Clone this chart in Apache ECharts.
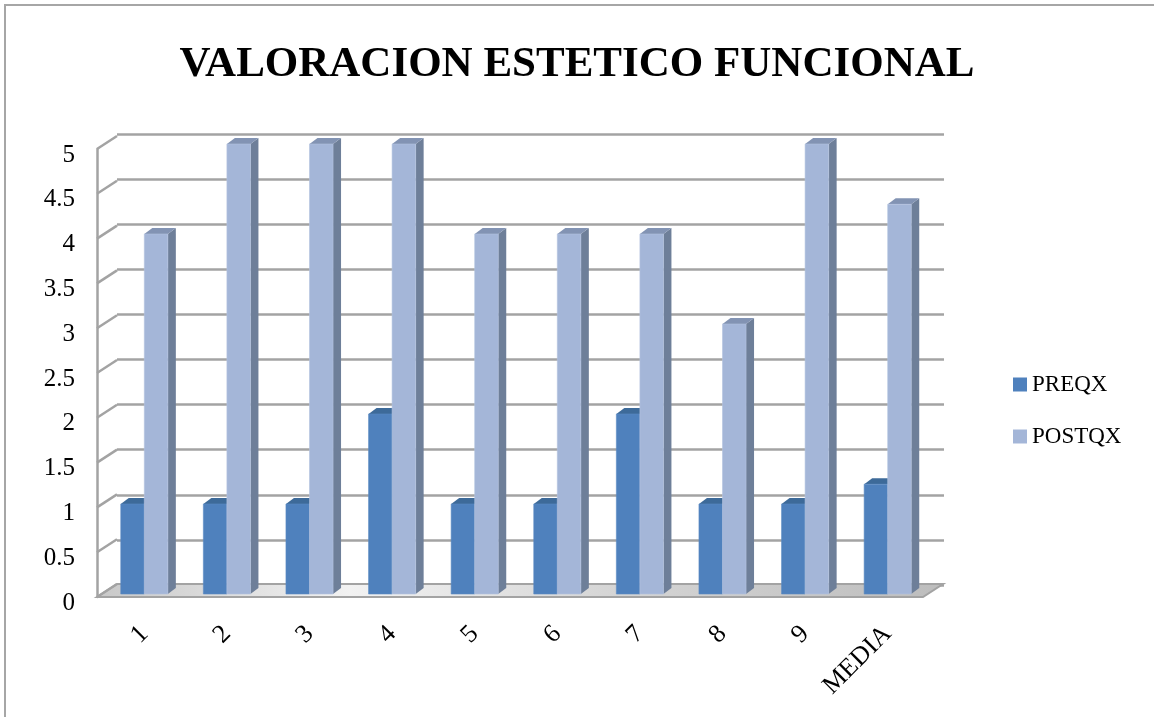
<!DOCTYPE html>
<html>
<head>
<meta charset="utf-8">
<script src="https://cdn.jsdelivr.net/npm/echarts@6/dist/echarts.min.js"></script>
<style>
html, body { margin: 0; padding: 0; background: #fff; }
#main { width: 1154px; height: 717px; }
</style>
</head>
<body>
<div id="main"></div>
<script>
var categories = ['1', '2', '3', '4', '5', '6', '7', '8', '9', 'MEDIA']
var preqx = [1, 1, 1, 2, 1, 1, 2, 1, 1, 1.22]
var postqx = [4, 5, 5, 5, 4, 4, 4, 3, 5, 4.33]
var yTicks = [0, 0.5, 1, 1.5, 2, 2.5, 3, 3.5, 4, 4.5, 5]

var FONT = '"Liberation Serif", "DejaVu Serif", serif'
var WALL = '#a3a3a3'
// profundidad de la pared (frontal -> fondo)
var WALL_DX = 20
var WALL_DY = -13
// profundidad de las barras
var BAR_DX = 8
var BAR_DY = -6

var myChart = echarts.init(document.getElementById('main'))

// barras 3d: cara frontal, superior y lateral
function barRender (slot, colors) {
  return function (params, api) {
    var base = api.coord([api.value(0), 0])
    var top = api.coord([api.value(0), api.value(1)])
    var band = api.size([1, 0])[0]
    var w = band * 0.285
    var xl = top[0] + (slot - 1) * w
    var yt = top[1]
    var yb = base[1]
    return {
      type: 'group',
      children: [
        {
          type: 'polygon',
          shape: { points: [[xl + w, yt], [xl + w + BAR_DX, yt + BAR_DY], [xl + w + BAR_DX, yb + BAR_DY], [xl + w, yb]] },
          style: { fill: colors.side }
        },
        {
          type: 'polygon',
          shape: { points: [[xl, yt], [xl + BAR_DX, yt + BAR_DY], [xl + w + BAR_DX, yt + BAR_DY], [xl + w, yt]] },
          style: { fill: colors.top }
        },
        {
          type: 'rect',
          shape: { x: xl, y: yt, width: w, height: yb - yt },
          style: { fill: colors.front, stroke: colors.edge, lineWidth: 0.6 }
        }
      ]
    }
  }
}

const option = {
  animation: false,
  backgroundColor: '#fff',
  title: {
    text: 'VALORACION ESTETICO FUNCIONAL',
    left: 'center',
    top: 38,
    textStyle: {
      fontFamily: FONT,
      fontWeight: 'bold',
      fontSize: 43,
      color: '#000'
    }
  },
  legend: {
    orient: 'vertical',
    left: 1008,
    top: 368,
    itemGap: 29,
    itemWidth: 14,
    itemHeight: 14,
    icon: 'rect',
    data: ['PREQX', 'POSTQX'],
    textStyle: {
      fontFamily: FONT,
      fontSize: 23,
      color: '#000'
    }
  },
  graphic: [
    {
      type: 'rect',
      shape: { x: 5, y: 5, width: 1170, height: 730 },
      style: { fill: null, stroke: '#a6a6a6', lineWidth: 2 },
      silent: true
    }
  ],
  grid: [
    // pared del fondo
    { left: 117, right: 210, top: 134, bottom: 132 },
    // eje frontal
    { left: 97, right: 231, top: 149, bottom: 120 },
    // barras
    { left: 103, right: 225, top: 144, bottom: 123 },
    // etiquetas del eje y (un poco mas abajo, como en excel)
    { left: 97, right: 231, top: 155, bottom: 114 }
  ],
  xAxis: [
    { gridIndex: 0, type: 'value', min: 0, max: 1, show: false },
    { gridIndex: 1, type: 'value', min: 0, max: 1, show: false },
    {
      gridIndex: 2,
      type: 'category',
      data: categories,
      axisLine: { show: false },
      axisTick: { show: false },
      axisLabel: {
        rotate: 45,
        margin: 36,
        fontFamily: FONT,
        fontSize: 26,
        color: '#000'
      }
    },
    { gridIndex: 3, type: 'value', min: 0, max: 1, show: false }
  ],
  yAxis: [
    {
      gridIndex: 0,
      type: 'value',
      min: 0,
      max: 5,
      interval: 0.5,
      axisLine: { show: false },
      axisTick: { show: false },
      axisLabel: { show: false },
      splitLine: { lineStyle: { color: WALL, width: 2.5 } }
    },
    {
      gridIndex: 1,
      type: 'value',
      min: 0,
      max: 5,
      interval: 0.5,
      axisLine: { show: true, lineStyle: { color: WALL, width: 2.5 } },
      axisTick: { show: false },
      splitLine: { show: false },
      axisLabel: { show: false }
    },
    { gridIndex: 2, type: 'value', min: 0, max: 5, show: false },
    {
      gridIndex: 3,
      type: 'value',
      min: 0,
      max: 5,
      interval: 0.5,
      axisLine: { show: false },
      axisTick: { show: false },
      splitLine: { show: false },
      axisLabel: {
        margin: 22,
        fontFamily: FONT,
        fontSize: 25,
        color: '#000'
      }
    }
  ],
  series: [
    {
      // suelo
      type: 'custom',
      xAxisIndex: 1,
      yAxisIndex: 1,
      z: 1,
      silent: true,
      data: [[0, 0]],
      renderItem: function (params, api) {
        var fl = api.coord([0, 0])
        var fr = api.coord([1, 0])
        var pts = [fl, [fl[0] + WALL_DX, fl[1] + WALL_DY], [fr[0] + WALL_DX, fr[1] + WALL_DY], fr]
        return {
          type: 'polygon',
          shape: { points: pts },
          style: {
            fill: new echarts.graphic.LinearGradient(0, 0, 1, 0, [
              { offset: 0, color: '#c8c8c8' },
              { offset: 0.3, color: '#f2f2f2' },
              { offset: 0.6, color: '#d6d6d6' },
              { offset: 1, color: '#bdbdbd' }
            ]),
            stroke: WALL,
            lineWidth: 2
          }
        }
      }
    },
    {
      // lineas diagonales de la pared izquierda
      type: 'custom',
      xAxisIndex: 1,
      yAxisIndex: 1,
      z: 2,
      silent: true,
      data: yTicks.map(function (v) { return [0, v] }),
      renderItem: function (params, api) {
        var p = api.coord([0, api.value(1)])
        return {
          type: 'line',
          shape: { x1: p[0], y1: p[1], x2: p[0] + WALL_DX, y2: p[1] + WALL_DY },
          style: { stroke: WALL, lineWidth: 2.5 }
        }
      }
    },
    {
      name: 'PREQX',
      type: 'custom',
      xAxisIndex: 2,
      yAxisIndex: 2,
      z: 3,
      itemStyle: { color: '#4f81bd' },
      data: preqx.map(function (v, i) { return [i, v] }),
      renderItem: barRender(0, { front: '#4f81bd', top: '#3d6a99', side: '#3a5f8a', edge: '#5a8ac2' })
    },
    {
      name: 'POSTQX',
      type: 'custom',
      xAxisIndex: 2,
      yAxisIndex: 2,
      z: 4,
      itemStyle: { color: '#a4b6d8' },
      data: postqx.map(function (v, i) { return [i, v] }),
      renderItem: barRender(1, { front: '#a4b6d8', top: '#8293b3', side: '#6e7f99', edge: '#b3c2df' })
    }
  ]
}

myChart.setOption(option)
</script>
</body>
</html>
